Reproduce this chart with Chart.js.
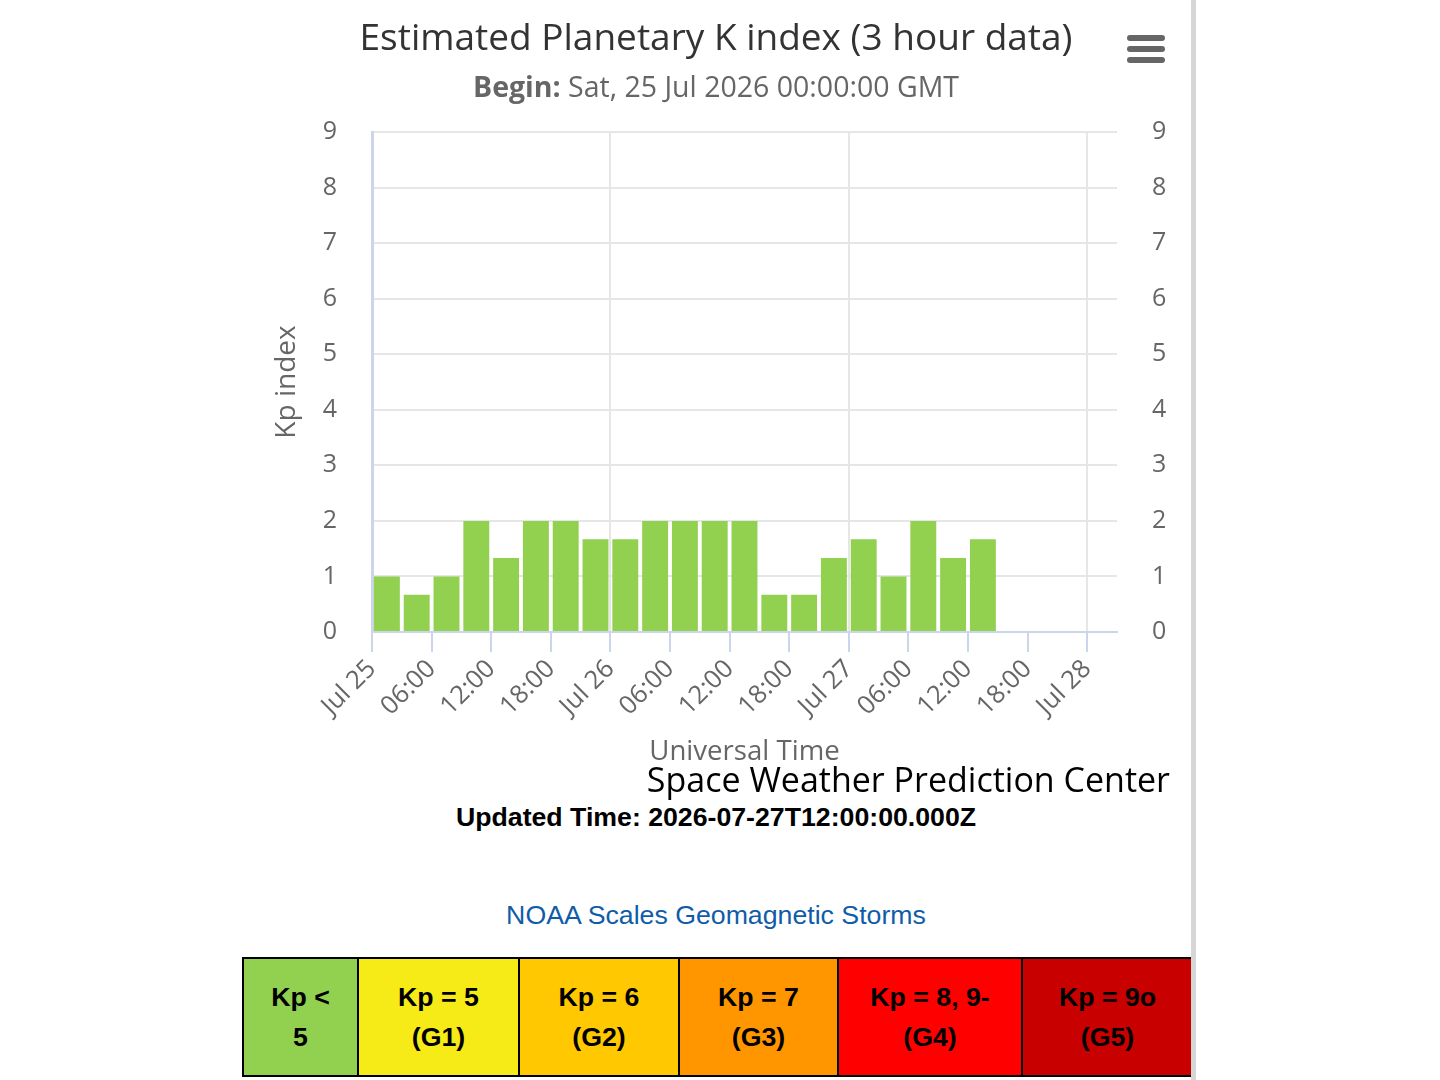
<!DOCTYPE html>
<html lang="en">
  <head>
    <meta charset="UTF-8" />
    <meta name="viewport" content="width=device-width, initial-scale=1.0" />
    <title>Planetary K index</title>
    <script src="https://cdn.jsdelivr.net/npm/chart.js@4.4.1/dist/chart.umd.min.js"></script>
    <style>
      html, body {
        margin: 0;
        padding: 0;
        width: 1440px;
        height: 1080px;
        background: #fff;
        overflow: hidden;
        position: relative;
      }
      #chartBox {
        position: absolute;
        left: 240px;
        top: 0;
        width: 952px;
        height: 770px;
      }
      #divider {
        position: absolute;
        left: 1191px;
        top: 0;
        width: 5px;
        height: 1080px;
        background: #d6d6d6;
      }
      #menu {
        position: absolute;
        left: 1127px;
        top: 35px;
        width: 38px;
      }
      #menu span {
        display: block;
        height: 6px;
        margin-bottom: 5px;
        border-radius: 3px;
        background: #666;
      }
      #credits {
        position: absolute;
        right: 270px;
        top: 762px;
        font: 34px/1 "Open Sans", sans-serif;
        color: #000;
        white-space: nowrap;
      }
      .centerLine {
        position: absolute;
        left: 240px;
        width: 952px;
        text-align: center;
        font-family: "Liberation Sans", Arial, sans-serif;
        font-size: 26.7px;
        line-height: 1;
        white-space: nowrap;
      }
      #updated { top: 804px; font-weight: bold; color: #000; }
      #scalesLink { top: 902px; color: #105ca8; }
      #scales {
        position: absolute;
        left: 242px;
        top: 957px;
        width: 950px;
        height: 120px;
        border-collapse: collapse;
        table-layout: fixed;
        font: bold 26.7px/40px "Liberation Sans", Arial, sans-serif;
        color: #000;
      }
      #scales td {
        border: 2px solid #000;
        text-align: center;
        vertical-align: middle;
        padding: 0;
      }
    </style>
  </head>
  <body>
    <div id="chartBox"><canvas id="kpChart"></canvas></div>
    <div id="menu"><span></span><span></span><span></span></div>
    <div id="credits">Space Weather Prediction Center</div>
    <div id="updated" class="centerLine">Updated Time: 2026-07-27T12:00:00.000Z</div>
    <div id="scalesLink" class="centerLine">NOAA Scales Geomagnetic Storms</div>
    <table id="scales">
      <colgroup id="scaleCols"></colgroup>
      <tr id="scaleRow"></tr>
    </table>
    <div id="divider"></div>

    <script>
      const chartTitle = "Estimated Planetary K index (3 hour data)";
      const beginLabel = "Begin:";
      const beginText = "Sat, 25 Jul 2026 00:00:00 GMT";
      const startTime = "2026-07-25T00:00:00Z";

      // 3-hour slots (start times) and their Kp estimates
      const kpTimes = [
        "2026-07-25T00:00:00Z", "2026-07-25T03:00:00Z", "2026-07-25T06:00:00Z",
        "2026-07-25T09:00:00Z", "2026-07-25T12:00:00Z", "2026-07-25T15:00:00Z",
        "2026-07-25T18:00:00Z", "2026-07-25T21:00:00Z",
        "2026-07-26T00:00:00Z", "2026-07-26T03:00:00Z", "2026-07-26T06:00:00Z",
        "2026-07-26T09:00:00Z", "2026-07-26T12:00:00Z", "2026-07-26T15:00:00Z",
        "2026-07-26T18:00:00Z", "2026-07-26T21:00:00Z",
        "2026-07-27T00:00:00Z", "2026-07-27T03:00:00Z", "2026-07-27T06:00:00Z",
        "2026-07-27T09:00:00Z", "2026-07-27T12:00:00Z",
      ];
      const kpValues = [
        1, 0.67, 1, 2, 1.33, 2, 2, 1.67,
        1.67, 2, 2, 2, 2, 0.67, 0.67, 1.33,
        1.67, 1, 2, 1.33, 1.67,
      ];

      const slotHours = 3;
      const axisEndHours = 75;
      const tickStepHours = 6;
      const tickLabels = [
        "Jul 25", "06:00", "12:00", "18:00",
        "Jul 26", "06:00", "12:00", "18:00",
        "Jul 27", "06:00", "12:00", "18:00",
        "Jul 28",
      ];
      const kpTicks = [0, 1, 2, 3, 4, 5, 6, 7, 8, 9];

      // NOAA G-scale
      const scaleLines = [
        ["Kp <", "5"],
        ["Kp = 5", "(G1)"],
        ["Kp = 6", "(G2)"],
        ["Kp = 7", "(G3)"],
        ["Kp = 8, 9-", "(G4)"],
        ["Kp = 9o", "(G5)"],
      ];
      const scaleColors = ["#92d050", "#f6eb16", "#ffc800", "#ff9600", "#ff0000", "#c80000"];
      const scaleLimits = [5, 6, 7, 8, 9, 10];
      const scaleWidths = [115, 161, 160, 159, 184, 171];

      const cols = document.querySelector("#scaleCols");
      const row = document.querySelector("#scaleRow");
      scaleLines.forEach((lines, i) => {
        const col = document.createElement("col");
        col.style.width = scaleWidths[i] + "px";
        cols.appendChild(col);
        const td = document.createElement("td");
        td.style.background = scaleColors[i];
        td.innerHTML = lines.join("<br>");
        row.appendChild(td);
      });

      function kpColor(v) {
        const i = scaleLimits.findIndex((lim) => v < lim);
        return scaleColors[i < 0 ? scaleColors.length - 1 : i];
      }

      const t0 = Date.parse(startTime);
      const points = kpTimes.map((t, i) => ({
        x: (Date.parse(t) - t0) / 3.6e6 + slotHours / 2,
        y: kpValues[i],
      }));

      Chart.defaults.font.family = '"Open Sans", sans-serif';
      Chart.defaults.color = "#666";

      const header = {
        id: "header",
        afterDraw(chart) {
          const ctx = chart.ctx;
          const cx = chart.width / 2;
          ctx.save();
          ctx.textBaseline = "alphabetic";
          ctx.textAlign = "center";
          ctx.fillStyle = "#333";
          ctx.font = '37px "Open Sans", sans-serif';
          ctx.fillText(chartTitle, cx, 50);

          ctx.textAlign = "left";
          ctx.fillStyle = "#666";
          ctx.font = 'bold 28.5px "Open Sans", sans-serif';
          const w1 = ctx.measureText(beginLabel + " ").width;
          ctx.font = '28.5px "Open Sans", sans-serif';
          const w2 = ctx.measureText(beginText).width;
          const x = cx - (w1 + w2) / 2;
          ctx.font = 'bold 28.5px "Open Sans", sans-serif';
          ctx.fillText(beginLabel + " ", x, 97);
          ctx.font = '28.5px "Open Sans", sans-serif';
          ctx.fillText(beginText, x + w1, 97);
          ctx.restore();
        },
      };

      new Chart(document.querySelector("#kpChart"), {
        type: "bar",
        data: {
          datasets: [
            {
              label: "Kp",
              data: points,
              backgroundColor: (c) => kpColor(c.raw ? c.raw.y : 0),
              borderWidth: 0,
              barPercentage: 0.87,
              categoryPercentage: 1,
              yAxisID: "y",
            },
          ],
        },
        options: {
          responsive: true,
          maintainAspectRatio: false,
          animation: false,
          layout: { padding: { top: 132, left: 0, right: 0, bottom: 0 } },
          plugins: {
            legend: { display: false },
            tooltip: { enabled: false },
          },
          scales: {
            x: {
              type: "linear",
              offset: false,
              min: 0,
              max: axisEndHours,
              afterBuildTicks: (s) => {
                s.ticks = tickLabels.map((_, i) => ({ value: i * tickStepHours }));
              },
              afterFit: (s) => {
                s.height = 138;
              },
              ticks: {
                autoSkip: false,
                minRotation: 45,
                maxRotation: 45,
                padding: 2,
                color: "#666",
                font: { size: 25.5 },
                callback: (v, i) => tickLabels[i],
              },
              grid: {
                offset: false,
                color: (c) => (c.tick && c.tick.value % 24 === 0 ? "#e6e6e6" : "rgba(0,0,0,0)"),
                lineWidth: 2,
                tickColor: "#ccd6eb",
                tickWidth: 2,
                tickLength: 20,
              },
              border: { color: "#ccd6eb", width: 2 },
              title: {
                display: true,
                text: "Universal Time",
                color: "#666",
                font: { size: 27.6 },
                padding: { top: 1, bottom: 1 },
              },
            },
            y: {
              position: "left",
              min: 0,
              max: 9,
              afterBuildTicks: (s) => {
                s.ticks = kpTicks.map((v) => ({ value: v }));
              },
              afterFit: (s) => {
                s.width = 132;
              },
              ticks: { padding: 35, color: "#666", font: { size: 25 } },
              grid: { color: "#e6e6e6", lineWidth: 2, drawTicks: false },
              border: { color: "#ccd6eb", width: 3 },
              title: {
                display: true,
                text: "Kp index",
                color: "#666",
                font: { size: 28 },
                padding: { top: 30, bottom: 30 },
              },
            },
            y2: {
              position: "right",
              min: 0,
              max: 9,
              afterBuildTicks: (s) => {
                s.ticks = kpTicks.map((v) => ({ value: v }));
              },
              afterFit: (s) => {
                s.width = 75;
              },
              ticks: { padding: 35, color: "#666", font: { size: 25 } },
              grid: { drawOnChartArea: false, drawTicks: false },
              border: { display: false },
            },
          },
        },
        plugins: [header],
      });
    </script>
  </body>
</html>
